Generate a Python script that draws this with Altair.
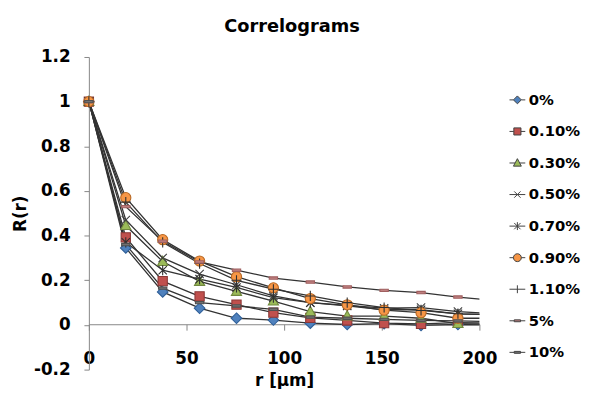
import altair as alt
import pandas as pd

# ---- data ----
r_um = [0, 18.9, 37.8, 56.7, 75.6, 94.5, 113.4, 132.3, 151.2, 170.1, 189.0, 207.9]

series_names = ["0%", "0.10%", "0.30%", "0.50%", "0.70%", "0.90%", "1.10%", "5%", "10%"]

s_0 = [1, 0.345, 0.148, 0.075, 0.030, 0.022, 0.008, 0.002, 0.006, -0.002, 0.002, 0.000]
s_010 = [1, 0.392, 0.196, 0.128, 0.091, 0.055, 0.032, 0.020, 0.008, 0.005, 0.010, 0.008]
s_030 = [1, 0.445, 0.284, 0.195, 0.150, 0.107, 0.060, 0.040, 0.040, 0.030, 0.006, 0.004]
s_050 = [1, 0.470, 0.300, 0.228, 0.180, 0.130, 0.100, 0.088, 0.075, 0.078, 0.060, 0.050]
s_070 = [1, 0.370, 0.245, 0.205, 0.168, 0.122, 0.100, 0.085, 0.068, 0.068, 0.050, 0.045]
s_090 = [1, 0.570, 0.382, 0.286, 0.216, 0.166, 0.118, 0.090, 0.066, 0.055, 0.030, 0.030]
s_110 = [1, 0.550, 0.370, 0.275, 0.200, 0.160, 0.130, 0.100, 0.078, 0.065, 0.050, 0.045]
s_5 = [1, 0.530, 0.375, 0.282, 0.245, 0.210, 0.192, 0.170, 0.155, 0.145, 0.125, 0.110]
s_10 = [1, 0.360, 0.165, 0.100, 0.085, 0.070, 0.035, 0.030, 0.025, 0.020, 0.018, 0.015]

all_values = [s_0, s_010, s_030, s_050, s_070, s_090, s_110, s_5, s_10]

x_ticks = [0, 50, 100, 150, 200]
y_ticks = [-0.2, 0, 0.2, 0.4, 0.6, 0.8, 1, 1.2]

# ---- styling ----
fill_colors = ["#4F81BD", "#C0504D", "#9BBB59", "#404040", "#404040",
               "#F79646", "#404040", "#C08080", "#707070"]
stroke_colors = ["#2F5F98", "#8C3836", "#71893F", "#404040", "#303030",
                 "#B86A26", "#303030", "#A06060", "#505050"]

marker_paths = [
    "M0,-1.15L1.15,0L0,1.15L-1.15,0Z",
    "M-1,-1L1,-1L1,1L-1,1Z",
    "M0,-1.15L1.1,0.85L-1.1,0.85Z",
    "M-0.9,-0.9L0.9,0.9M-0.9,0.9L0.9,-0.9",
    "M-0.9,-0.9L0.9,0.9M-0.9,0.9L0.9,-0.9M0,-1.1L0,1.1",
    "M1.1,0A1.1,1.1 0 1,1 -1.1,0A1.1,1.1 0 1,1 1.1,0Z",
    "M-1.1,0L1.1,0M0,-1.1L0,1.1",
    "M-0.9,-0.25L0.9,-0.25L0.9,0.25L-0.9,0.25Z",
    "M-0.9,-0.25L0.9,-0.25L0.9,0.25L-0.9,0.25Z",
]

legend_paths = [
    "M-1,0L-0.5,0M0.5,0L1,0M0,-0.5L0.5,0L0,0.5L-0.5,0Z",
    "M-1,0L-0.45,0M0.45,0L1,0M-0.45,-0.45L0.45,-0.45L0.45,0.45L-0.45,0.45Z",
    "M-1,0L-0.3,0M0.3,0L1,0M0,-0.55L0.5,0.4L-0.5,0.4Z",
    "M-1,0L1,0M-0.4,-0.4L0.4,0.4M-0.4,0.4L0.4,-0.4",
    "M-1,0L1,0M-0.4,-0.4L0.4,0.4M-0.4,0.4L0.4,-0.4M0,-0.5L0,0.5",
    "M-1,0L-0.5,0M0.5,0L1,0M0.5,0A0.5,0.5 0 1,1 -0.5,0A0.5,0.5 0 1,1 0.5,0Z",
    "M-1,0L1,0M0,-0.5L0,0.5",
    "M-1,0L-0.4,0M0.4,0L1,0M-0.4,-0.12L0.4,-0.12L0.4,0.12L-0.4,0.12Z",
    "M-1,0L-0.4,0M0.4,0L1,0M-0.4,-0.12L0.4,-0.12L0.4,0.12L-0.4,0.12Z",
]

rows = []
for name, vals in zip(series_names, all_values):
    for rv, v in zip(r_um, vals):
        rows.append({"series": name, "r": rv, "R": v})
df = pd.DataFrame(rows)

FONT = "DejaVu Sans"

x_enc = alt.X(
    "r:Q",
    scale=alt.Scale(domain=[0, 200], nice=False, zero=False),
    axis=alt.Axis(
        values=x_ticks, grid=False, offset=-46, tickSize=6,
        labelPadding=21, labelFlush=False, domainColor="#868686", tickColor="#868686",
        labelFont=FONT, labelFontWeight="bold", labelFontSize=17, labelColor="black",
        title="r [µm]", titleFont=FONT, titleFontWeight="bold", titleFontSize=17,
        titleColor="black", titlePadding=6,
    ),
)
y_enc = alt.Y(
    "R:Q",
    scale=alt.Scale(domain=[-0.2, 1.2], nice=False, zero=False),
    axis=alt.Axis(
        values=y_ticks, grid=False, tickSize=5, labelPadding=14,
        labelExpr="replace(format(datum.value, '.1~f'), '\u2212', '-')",
        domainColor="#868686", tickColor="#868686",
        labelFont=FONT, labelFontWeight="bold", labelFontSize=17, labelColor="black",
        title="R(r)", titleFont=FONT, titleFontWeight="bold", titleFontSize=17,
        titleColor="black", titlePadding=4,
    ),
)

base = alt.Chart(df)

lines = base.mark_line(clip=True, color="#333333", strokeWidth=1.3).encode(
    x=x_enc, y=y_enc, detail="series:N"
)

markers = base.transform_filter("datum.r <= 200").mark_point(
    filled=True, size=88, strokeWidth=1.1, opacity=1
).encode(
    x=x_enc,
    y=y_enc,
    shape=alt.Shape("series:N", scale=alt.Scale(domain=series_names, range=marker_paths), legend=None),
    fill=alt.Fill("series:N", scale=alt.Scale(domain=series_names, range=fill_colors), legend=None),
    stroke=alt.Stroke("series:N", scale=alt.Scale(domain=series_names, range=stroke_colors), legend=None),
)

leg = alt.Legend(
    title=None, orient="none", legendX=426, legendY=35, padding=0,
    labelFont=FONT, labelFontWeight="bold", labelFontSize=15, labelColor="black",
    symbolSize=256, symbolStrokeWidth=1, rowPadding=15, labelOffset=3,
    symbolOpacity=1, labelLimit=0,
)

legend_layer = base.transform_filter("false").mark_point(filled=True, opacity=1).encode(
    shape=alt.Shape("series:N", scale=alt.Scale(domain=series_names, range=legend_paths), legend=leg),
    fill=alt.Fill("series:N", scale=alt.Scale(domain=series_names, range=fill_colors), legend=leg),
    stroke=alt.Stroke("series:N", scale=alt.Scale(domain=series_names, range=["#404040"] * 9), legend=leg),
)

chart = alt.layer(lines, markers, legend_layer).resolve_scale(
    shape="independent", fill="independent", stroke="independent"
).properties(
    width=396,
    height=317,
    title=alt.TitleParams(
        "Correlograms", font=FONT, fontWeight="bold", fontSize=18, color="black",
        anchor="middle", dx=8, offset=12,
    ),
    autosize=alt.AutoSizeParams(type="none"),
    padding={"left": 82, "top": 47, "right": 103, "bottom": 17},
).configure_view(stroke=None)

chart.save("out.html", embed_options={"renderer": "svg", "actions": False})
